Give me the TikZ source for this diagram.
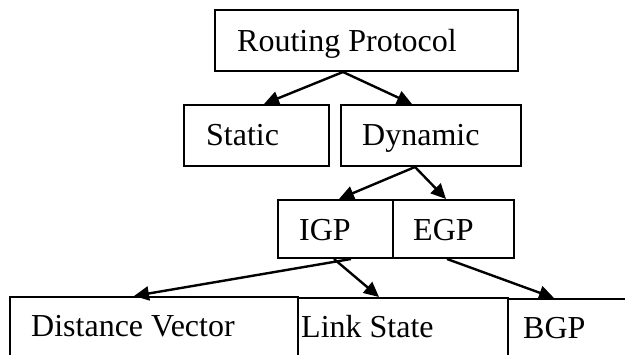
\documentclass[tikz,border=0pt]{standalone}
\usepackage{fontspec}
\setmainfont{Liberation Serif}
\usetikzlibrary{arrows.meta,calc}
\begin{document}
\begin{tikzpicture}[x=1pt,y=1pt,
  box/.style={draw=black,line width=2pt,rectangle,inner sep=0pt,fill=white},
  lbl/.style={anchor=base west,inner sep=0pt,font=\fontsize{32}{36}\selectfont},
  arr/.style={line width=2.4pt,-{Triangle[length=15pt,width=14pt]}}]
\useasboundingbox (0,0) rectangle (625,355);
\clip (0,0) rectangle (625,355);
\fill[white] (0,0) rectangle (625,355);
% boxes
\node[box,minimum width=303pt,minimum height=61pt] (rp) at (366.5,314.5) {};
\node[box,minimum width=145pt,minimum height=61pt] (st) at (256.5,219.5) {};
\node[box,minimum width=180pt,minimum height=61pt] (dy) at (431,219.5) {};
\node[box,minimum width=115pt,minimum height=58pt] (igp) at (335.5,126) {};
\node[box,minimum width=121pt,minimum height=58pt] (egp) at (453.5,126) {};
\node[box,minimum width=288pt,minimum height=80pt] (dv) at (154,18) {};
\node[box,minimum width=210pt,minimum height=80pt] (ls) at (403,17) {};
\node[box,minimum width=140pt,minimum height=80pt] (bgp) at (578,16) {};
% labels
\node[lbl] (trp) at (237,303) {Routing Protocol};
\node[lbl] (tst) at (206,209) {Static};
\node[lbl] (tdy) at (362,209) {Dynamic};
\node[lbl] (tigp) at (299,114) {IGP};
\node[lbl] (tegp) at (413,114) {EGP};
\node[lbl] (tdv) at (31,18) {Distance Vector};
\node[lbl] (tls) at (301,17) {Link State};
\node[lbl] (tbgp) at (523,16) {BGP};
% arrows
\draw[arr] ($(rp.south west)+(129,0)$) -- ($(st.north west)+(81,0)$);
\draw[arr] ($(rp.south west)+(129,0)$) -- ($(dy.north west)+(72,0)$);
\draw[arr] ($(dy.south west)+(75,0)$) -- ($(igp.north west)+(62,0)$);
\draw[arr] ($(dy.south west)+(75,0)$) -- ($(egp.north west)+(54,0)$);
\draw[arr] ($(igp.south west)+(74,0)$) -- ($(dv.north west)+(125,0)$);
\draw[arr] ($(igp.south west)+(57,0)$) -- ($(ls.north west)+(82,0)$);
\draw[arr] ($(egp.south west)+(55,0)$) -- ($(bgp.north west)+(47,0)$);
\end{tikzpicture}
\end{document}
